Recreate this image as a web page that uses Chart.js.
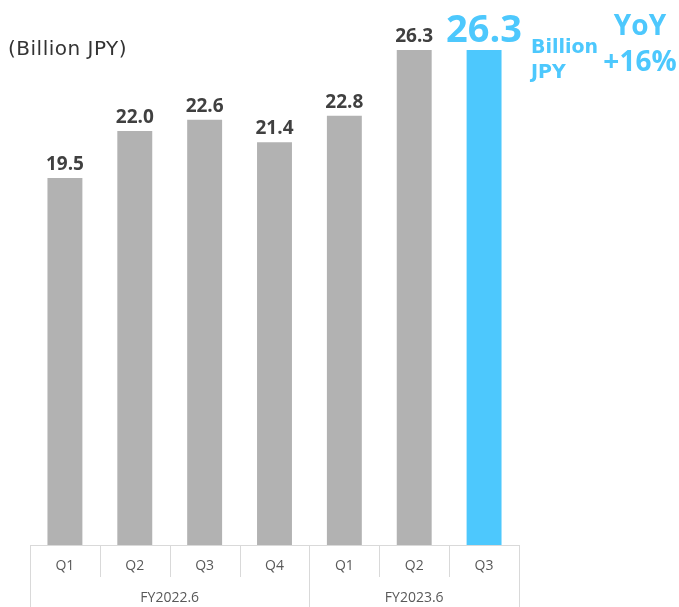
<!DOCTYPE html>
<html><head><meta charset="utf-8">
<script src="https://cdn.jsdelivr.net/npm/chart.js@4/dist/chart.umd.min.js"></script>
<style>html,body{margin:0;padding:0;background:#fff;}#wrap{width:679px;height:607px;position:relative;}</style>
</head><body><div id="wrap"><canvas id="c" width="679" height="607"></canvas></div>
<script>
const quarters = ["Q1","Q2","Q3","Q4","Q1","Q2","Q3"];
const revenue = [19.5, 22.0, 22.6, 21.4, 22.8, 26.3, 26.3];
const fiscalYears = ["FY2022.6","FY2023.6"];
const quartersPerYear = [4, 3];
const unitLabel = "(Billion JPY)";
const highlightUnit = ["Billion","JPY"];
const yoyText = ["YoY","+16%"];

const GRAY = "#b2b2b2", BLUE = "#4dc8fd", LINE = "#d9d9d9";
const colors = revenue.map((v,i)=> i===revenue.length-1 ? BLUE : GRAY);

const overlay = {
  id:'overlay',
  afterDraw(chart){
    const ctx = chart.ctx, x = chart.scales.x, area = chart.chartArea;
    const meta = chart.getDatasetMeta(0);
    const n = quarters.length;
    const step = x.getPixelForValue(1) - x.getPixelForValue(0);
    const half = step/2;
    const top = area.bottom;
    const bottom = chart.height;
    ctx.save();
    ctx.textAlign='center'; ctx.textBaseline='alphabetic';
    meta.data.forEach((bar,i)=>{
      if(i===n-1){
        ctx.font='bold 38px "Open Sans"'; ctx.fillStyle=BLUE;
      } else {
        ctx.font='bold 19px "Open Sans"'; ctx.fillStyle='#404040';
      }
      ctx.fillText(revenue[i].toFixed(1), bar.x, bar.y-8);
    });
    ctx.strokeStyle=LINE; ctx.lineWidth=1;
    const left = x.getPixelForValue(0)-half, right = x.getPixelForValue(n-1)+half;
    ctx.beginPath();
    ctx.moveTo(left, top+0.5); ctx.lineTo(right, top+0.5);
    ctx.moveTo(Math.round(left)+0.5, top); ctx.lineTo(Math.round(left)+0.5, bottom);
    ctx.moveTo(Math.round(right)+0.5, top); ctx.lineTo(Math.round(right)+0.5, bottom);
    let idx=0; const groupBounds=[];
    quartersPerYear.forEach(c=>{groupBounds.push(idx+c); idx+=c;});
    for(let i=1;i<n;i++){
      const px = Math.round(x.getPixelForValue(i)-half)+0.5;
      const isGroup = groupBounds.includes(i);
      ctx.moveTo(px, top); ctx.lineTo(px, isGroup ? bottom : top+32);
    }
    ctx.stroke();
    ctx.font='14px "Open Sans"'; ctx.fillStyle='#595959'; ctx.textBaseline='middle';
    quarters.forEach((q,i)=> ctx.fillText(q, x.getPixelForValue(i), top+21));
    let s=0;
    fiscalYears.forEach((fy,g)=>{
      const e = s+quartersPerYear[g]-1;
      const cx = (x.getPixelForValue(s)+x.getPixelForValue(e))/2;
      ctx.fillText(fy, cx, top+53);
      s = e+1;
    });
    ctx.textAlign='left'; ctx.font='20px "DejaVu Sans"'; ctx.fillStyle='#333333';
    ctx.letterSpacing='0.5px';
    ctx.fillText(unitLabel, 8, 50);
    ctx.letterSpacing='0px';
    ctx.fillStyle=BLUE;
    ctx.font='bold 19px "DejaVu Sans"';
    ctx.fillText(highlightUnit[0], right+12, 48);
    ctx.fillText(highlightUnit[1], right+12, 73);
    ctx.textAlign='center'; ctx.font='bold 28px "Open Sans"';
    ctx.fillText(yoyText[0], 640, 27);
    ctx.fillText(yoyText[1], 640, 63);
    ctx.restore();
  }
};

new Chart(document.getElementById('c'), {
  type:'bar',
  data:{labels:quarters, datasets:[{data:revenue, backgroundColor:colors, borderWidth:0, categoryPercentage:1, barPercentage:0.5}]},
  options:{
    responsive:false, animation:false, devicePixelRatio:1,
    layout:{padding:{left:30, right:160, top:18, bottom:62}},
    plugins:{legend:{display:false}, tooltip:{enabled:false}, title:{display:false}},
    scales:{
      x:{display:false},
      y:{display:false, min:0, max:28}
    }
  },
  plugins:[overlay]
});
</script></body></html>
